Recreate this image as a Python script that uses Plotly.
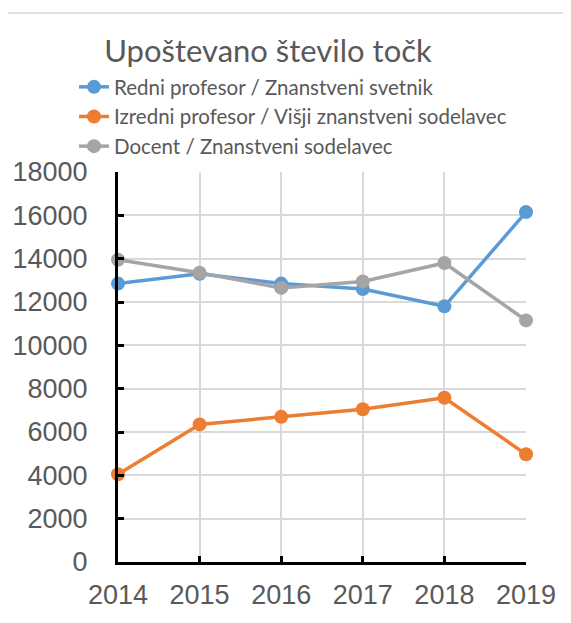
"""Upoštevano število točk po nazivih, 2014-2019"""

import plotly.graph_objects as go

years = [2014, 2015, 2016, 2017, 2018, 2019]

redni = [12850, 13300, 12850, 12600, 11800, 16150]
izredni = [4050, 6350, 6700, 7050, 7580, 4970]
docent = [13950, 13350, 12650, 12950, 13800, 11150]

series = [
    ("Redni profesor / Znanstveni svetnik", redni, "#5B9BD5"),
    ("Izredni profesor / Višji znanstveni sodelavec", izredni, "#ED7D31"),
    ("Docent / Znanstveni sodelavec", docent, "#A5A5A5"),
]

y_ticks = list(range(0, 18001, 2000))

fig = go.Figure()
for name, vals, color in series:
    fig.add_trace(go.Scatter(
        x=years,
        y=vals,
        name=name,
        mode="lines+markers",
        line=dict(color=color, width=3.5),
        marker=dict(color=color, size=14),
        cliponaxis=False,
    ))

# page body has an 8px margin; plot area lands at x 118..526, y 172..562
W, H = 563, 615
fig.update_layout(
    width=W,
    height=H,
    paper_bgcolor="white",
    plot_bgcolor="white",
    margin=dict(l=110, r=45, t=164, b=61, autoexpand=False),
    title=dict(
        text="Upoštevano število točk",
        x=260 / W, xanchor="center",
        y=1 - 43 / H, yanchor="middle",
        font=dict(family="Lato", size=31, color="#595959"),
    ),
    legend=dict(
        x=(74 - 118) / 408, y=(562 - 67) / 390,
        xanchor="left", yanchor="top",
        font=dict(family="Lato", size=20.5, color="#595959"),
        bgcolor="rgba(0,0,0,0)",
        itemwidth=30,
    ),
    showlegend=True,
    xaxis=dict(
        range=[2014, 2019],
        tickvals=years,
        tickformat="d",
        showgrid=True, gridcolor="#D9D9D9", gridwidth=1.5,
        showline=True, linecolor="black", linewidth=3,
        ticks="inside", ticklen=6, tickwidth=3, tickcolor="black",
        tickfont=dict(family="Liberation Sans", size=27, color="#595959"),
        ticklabelstandoff=7,
        zeroline=False,
    ),
    yaxis=dict(
        range=[0, 18000],
        tickvals=y_ticks,
        tickformat="d",
        showgrid=True, gridcolor="#D9D9D9", gridwidth=1.5,
        showline=True, linecolor="black", linewidth=3,
        ticks="inside", ticklen=6, tickwidth=3, tickcolor="black",
        tickfont=dict(family="Liberation Sans", size=27, color="#595959"),
        ticklabelstandoff=22,
        zeroline=False,
    ),
    shapes=[dict(
        type="rect", xref="paper", yref="paper",
        x0=(7 - 118) / 408, x1=(590 - 118) / 408,
        y0=(562 - 640) / 390, y1=(562 - 13) / 390,
        line=dict(color="#D9D9D9", width=1.5),
        layer="below",
    )],
)

fig.write_html("out.html")
